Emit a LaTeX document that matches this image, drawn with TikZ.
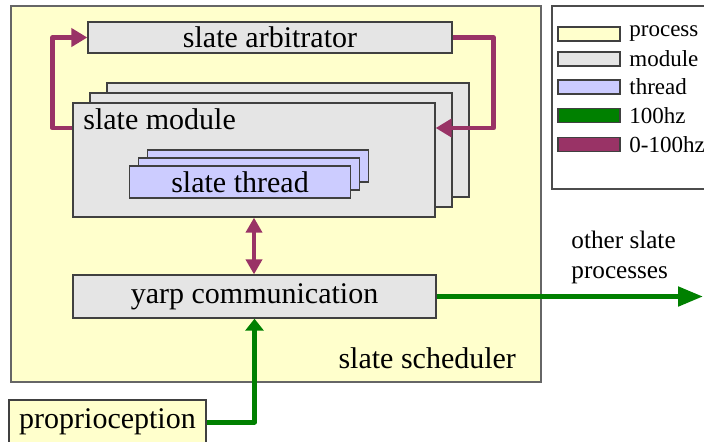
\documentclass[tikz,border=0pt]{standalone}
\usepackage{fontspec}
\setmainfont{Liberation Serif}
\usepackage{xcolor}
\usetikzlibrary{calc, positioning, arrows.meta}
\definecolor{procfill}{HTML}{FFFFCC}
\definecolor{modfill}{HTML}{E5E5E5}
\definecolor{thrfill}{HTML}{CCCCFF}
\definecolor{fastcol}{HTML}{008000}
\definecolor{slowcol}{HTML}{993366}

\begin{document}
\begin{tikzpicture}[x=0.5pt, y=-0.5pt,
    box/.style={draw=black!75, line width=0.65pt, inner sep=0pt},
    modbox/.style={box, fill=modfill, minimum width=181pt, minimum height=57pt},
    thrbox/.style={box, fill=thrfill, minimum width=110.5pt, minimum height=16pt},
    big/.style={font=\fontsize{15pt}{18pt}\selectfont},
    small/.style={font=\fontsize{11.5pt}{14pt}\selectfont},
    slow/.style={draw=slowcol, line width=2.3pt, line join=round},
    fast/.style={draw=fastcol, line width=2.5pt, line join=round}]
    \useasboundingbox (0,0) rectangle (704,441);

    \node[box, draw=black!60, line width=0.75pt, fill=procfill, minimum width=265pt, minimum height=188pt] (sched) at (276,194) {};
    \node[big, anchor=base east] (schedlbl) at (523,368) {slate scheduler};

    % legend
    \node[box, draw=black!70, fill=white, minimum width=78pt, minimum height=91.5pt] (legend) at (630,97.5) {};
    \foreach \c/\t/\y [count=\i] in {procfill/process/34, modfill/module/59, thrfill/thread/87, fastcol/100hz/115.5, slowcol/0-100hz/144.5} {
        \node[box, fill=\c, minimum width=31pt, minimum height=7pt] (sw\i) at (589,\y) {};
        \node[small, anchor=west, inner sep=1pt] (swl\i) at (627,\y) {\t};
    }

    \node[box, fill=modfill, big, minimum width=182pt, minimum height=15.5pt] (arb) at (270,37.5) {slate arbitrator};

    \foreach \n/\x/\y in {B/288/140, M/271/150, F/254/160}
        \node[modbox] (mod\n) at (\x,\y) {};
    \node[big, anchor=base west, inner sep=0pt] (modlbl) at (83,129) {slate module};

    \foreach \n/\x/\y in {B/258/166, M/249/174}
        \node[thrbox] (thr\n) at (\x,\y) {};
    \node[thrbox, big] (thrF) at (240,182) {slate thread};

    \node[box, fill=modfill, big, minimum width=181.5pt, minimum height=21.5pt] (yarp) at (254.5,296.5) {yarp communication};

    \node[box, fill=procfill, big, minimum width=98.5pt, minimum height=22pt] (prop) at (107.5,422) {proprioception};

    \node[font=\fontsize{12.6pt}{15pt}\selectfont, align=left, anchor=west, inner sep=0pt] (other) at (571,257) {other slate\\processes};
    \coordinate (outend) at (703,296.5);

    \draw[slow, -{Triangle[length=8pt, width=9pt]}] ([yshift=16pt]modF.west) -- ++(-20,0) |- (arb.west);
    \draw[slow, -{Triangle[length=8pt, width=9pt]}] (arb.east) -- ++(41,0) |- ([yshift=16pt]modF.east);
    \draw[slow, {Triangle[length=7.5pt, width=8pt]}-{Triangle[length=7.5pt, width=8pt]}] (modF.south) -- (modF.south |- yarp.north);

    \draw[fast, -{Triangle[length=6pt, width=9pt]}] (prop.east) -| (yarp.south);
    \draw[fast, -{Triangle[length=12.5pt, width=9.5pt]}] (yarp.east) -- (yarp.east -| outend);
\end{tikzpicture}
\end{document}
